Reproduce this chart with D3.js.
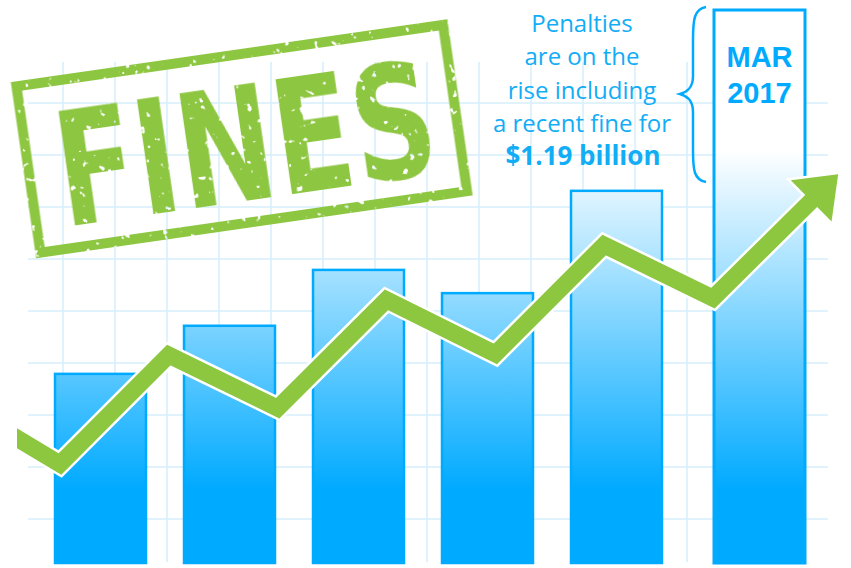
<!DOCTYPE html>
<html>
<head>
<meta charset="utf-8">
<script src="https://cdn.jsdelivr.net/npm/d3@7"></script>
<style>
  html, body { margin: 0; padding: 0; background: #fff; }
  svg { display: block; }
</style>
</head>
<body>
<div id="chart"></div>
<script>
  const W = 851, H = 568;

  // bars (relative fine size, arbitrary units)
  const categories = ["p1", "p2", "p3", "p4", "p5", "MAR 2017"];
  const barValues = [34.2, 42.9, 53.0, 48.8, 67.3, 100];

  // trend arrow: position index along the chart and level
  const trendIndex = [-0.5, 0, 1, 2, 3, 4, 5, 6, 7.15];
  const trendValues = [23.8, 17.9, 37.6, 28.0, 47.6, 37.8, 57.5, 47.9, 70.3];

  const noteLines = ["Penalties", "are on the", "rise including", "a recent fine for"];
  const noteHighlight = "$1.19 billion";
  const highlightLabel = ["MAR", "2017"];
  const stampText = "FINES";

  const gridCols = d3.range(15);
  const gridRows = d3.range(9);

  const BLUE = "#00aaff";
  const TEXT_BLUE = "#12adf5";
  const GREEN = "#8dc63f";
  const GRID = "#d6effd";
  const HIGHLIGHT_GAP = 14;

  const svg = d3.select("#chart").append("svg")
    .attr("width", W).attr("height", H)
    .attr("viewBox", `0 0 ${W} ${H}`);

  const defs = svg.append("defs");
  const grad = defs.append("linearGradient")
    .attr("id", "barFill")
    .attr("gradientUnits", "userSpaceOnUse")
    .attr("x1", 0).attr("y1", 150).attr("x2", 0).attr("y2", 490);
  grad.append("stop").attr("offset", 0).attr("stop-color", "#ffffff");
  grad.append("stop").attr("offset", 1).attr("stop-color", BLUE);

  defs.append("clipPath").attr("id", "trendClip")
    .append("rect").attr("x", 17).attr("y", 0).attr("width", W).attr("height", H);

  // rough stamp ink
  const grunge = defs.append("filter").attr("id", "grunge")
    .attr("x", "-5%").attr("y", "-5%").attr("width", "110%").attr("height", "110%");
  grunge.append("feTurbulence")
    .attr("type", "fractalNoise").attr("baseFrequency", 0.13)
    .attr("numOctaves", 2).attr("seed", 7).attr("result", "noise");
  grunge.append("feColorMatrix").attr("in", "noise").attr("type", "matrix")
    .attr("values", "0 0 0 0 0  0 0 0 0 0  0 0 0 0 0  0 0 0 -20 15")
    .attr("result", "mask");
  grunge.append("feComposite").attr("in", "SourceGraphic").attr("in2", "mask")
    .attr("operator", "in");

  // scales
  const y = d3.scaleLinear().domain([0, 100]).range([563, 10]);
  const x = d3.scaleBand().domain(categories).range([55, 791]).paddingInner(38 / 129).paddingOuter(0);
  const barX = (d, i) => x(d) + (i === categories.length - 1 ? HIGHLIGHT_GAP : 0);
  const xt = d3.scaleLinear().domain([0, 6]).range([60, 713]);
  const gx = d3.scaleLinear().domain([0, 1]).range([63, 115]);
  const gy = d3.scaleLinear().domain([0, 1]).range([103, 155]);

  // grid
  const grid = svg.append("g").attr("stroke", GRID).attr("stroke-width", 1.5);
  grid.selectAll("line.h").data(gridRows).join("line")
    .attr("class", "h")
    .attr("x1", 28).attr("x2", 828)
    .attr("y1", (d) => gy(d)).attr("y2", (d) => gy(d));
  grid.selectAll("line.v").data(gridCols).join("line")
    .attr("class", "v")
    .attr("y1", 62).attr("y2", 562)
    .attr("x1", (d) => gx(d)).attr("x2", (d) => gx(d));

  // stamp
  const stamp = svg.append("g")
    .attr("transform", "translate(241.75,138.75) rotate(-8.2)")
    .attr("filter", "url(#grunge)");
  stamp.append("rect")
    .attr("x", -215.5).attr("y", -84).attr("width", 431).attr("height", 168)
    .attr("fill", "none").attr("stroke", GREEN).attr("stroke-width", 10);
  stamp.append("text")
    .attr("x", 3).attr("y", 62)
    .attr("text-anchor", "middle")
    .attr("textLength", 382).attr("lengthAdjust", "spacingAndGlyphs")
    .attr("font-family", "DejaVu Sans")
    .attr("font-weight", "bold")
    .attr("font-size", 159)
    .attr("fill", GREEN)
    .text(stampText);

  // bars
  svg.append("g").selectAll("rect").data(barValues).join("rect")
    .attr("x", (d, i) => barX(categories[i], i))
    .attr("y", (d) => y(d))
    .attr("width", x.bandwidth())
    .attr("height", (d) => y(0) - y(d))
    .attr("fill", "url(#barFill)")
    .attr("stroke", BLUE)
    .attr("stroke-width", (d, i) => (i === categories.length - 1 ? 3 : 2.5));

  // highlight label in the last bar
  const lastIdx = categories.length - 1;
  const lastCx = barX(categories[lastIdx], lastIdx) + x.bandwidth() / 2;
  svg.append("g").selectAll("text").data(highlightLabel).join("text")
    .attr("x", lastCx)
    .attr("y", (d, i) => 67 + i * 36)
    .attr("text-anchor", "middle")
    .attr("font-family", "Liberation Sans")
    .attr("font-weight", "bold")
    .attr("font-size", 29)
    .attr("fill", BLUE)
    .text((d) => d);

  // note text
  const note = svg.append("g")
    .attr("font-family", "Open Sans")
    .attr("fill", TEXT_BLUE)
    .attr("text-anchor", "middle");
  note.selectAll("text.line").data(noteLines).join("text")
    .attr("class", "line")
    .attr("x", 582)
    .attr("y", (d, i) => 32 + i * 33.3)
    .attr("font-size", 24)
    .text((d) => d);
  note.append("text")
    .attr("x", 583)
    .attr("y", 165)
    .attr("font-size", 26)
    .attr("font-weight", "bold")
    .text(noteHighlight);

  // curly brace
  const bx = barX(categories[lastIdx], lastIdx) - 8;
  const brace = d3.path();
  brace.moveTo(bx, 7);
  brace.bezierCurveTo(bx - 12, 9, bx - 13, 20, bx - 13, 40);
  brace.lineTo(bx - 13, 76);
  brace.bezierCurveTo(bx - 13, 88, bx - 19, 92, bx - 26, 94);
  brace.bezierCurveTo(bx - 19, 96, bx - 13, 100, bx - 13, 112);
  brace.lineTo(bx - 13, 150);
  brace.bezierCurveTo(bx - 13, 170, bx - 12, 180, bx, 182);
  svg.append("path")
    .attr("d", brace.toString())
    .attr("fill", "none")
    .attr("stroke", BLUE)
    .attr("stroke-width", 2.5);

  // trend arrow
  const pts = trendIndex.map((t, i) => [xt(t), y(trendValues[i])]);
  const tip = pts[pts.length - 1];
  const prev = pts[pts.length - 2];
  const len = Math.hypot(tip[0] - prev[0], tip[1] - prev[1]);
  const u = [(tip[0] - prev[0]) / len, (tip[1] - prev[1]) / len];
  const HEAD_LEN = 38, HEAD_HALF = 29;
  const base = [tip[0] - u[0] * HEAD_LEN, tip[1] - u[1] * HEAD_LEN];
  const shaftEnd = [tip[0] - u[0] * (HEAD_LEN - 6), tip[1] - u[1] * (HEAD_LEN - 6)];
  const head = [
    tip,
    [base[0] - u[1] * HEAD_HALF, base[1] + u[0] * HEAD_HALF],
    [base[0] + u[1] * HEAD_HALF, base[1] - u[0] * HEAD_HALF],
  ];
  const shaft = pts.slice(0, -1).concat([shaftEnd]);
  const line = d3.line();

  const trend = svg.append("g").attr("clip-path", "url(#trendClip)");
  trend.append("path")
    .attr("d", line(shaft))
    .attr("fill", "none").attr("stroke", "#fff")
    .attr("stroke-width", 22).attr("stroke-linejoin", "miter").attr("stroke-miterlimit", 10);
  trend.append("polygon")
    .attr("points", head.map((p) => p.join(",")).join(" "))
    .attr("fill", "#fff").attr("stroke", "#fff").attr("stroke-width", 5)
    .attr("stroke-linejoin", "miter");
  trend.append("path")
    .attr("d", line(shaft))
    .attr("fill", "none").attr("stroke", GREEN)
    .attr("stroke-width", 17).attr("stroke-linejoin", "miter").attr("stroke-miterlimit", 10);
  trend.append("polygon")
    .attr("points", head.map((p) => p.join(",")).join(" "))
    .attr("fill", GREEN);
</script>
</body>
</html>
